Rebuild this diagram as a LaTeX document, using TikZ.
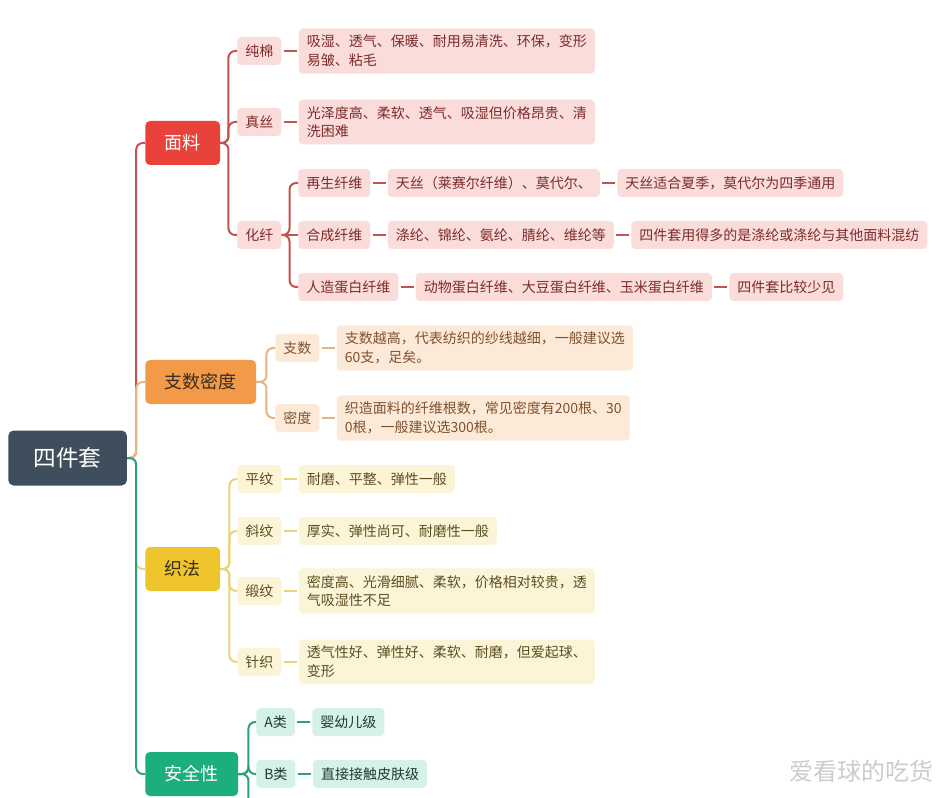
\documentclass[tikz,border=0pt]{standalone}
\usepackage{fontspec}
\usepackage{xcolor}
\usepackage{tikz}
\usetikzlibrary{positioning, calc}
\newfontfamily\cjkfont{Noto Sans CJK SC}
\definecolor{rootslate}{HTML}{3F4E5D}
\definecolor{fabricred}{HTML}{E8423B}
\definecolor{fabricline}{HTML}{C4524E}
\definecolor{fabrictint}{HTML}{FADCDB}
\definecolor{fabricink}{HTML}{7A2C2A}
\definecolor{countorange}{HTML}{F29A47}
\definecolor{countline}{HTML}{E6B384}
\definecolor{counttint}{HTML}{FDE9D8}
\definecolor{countink}{HTML}{7E5230}
\definecolor{weaveyellow}{HTML}{EEC52C}
\definecolor{weaveline}{HTML}{EAD378}
\definecolor{weavetint}{HTML}{FCF4D6}
\definecolor{weaveink}{HTML}{5C4E22}
\definecolor{safegreen}{HTML}{1DAF7B}
\definecolor{safeline}{HTML}{27A47D}
\definecolor{safetint}{HTML}{D5F2E6}
\definecolor{safeink}{HTML}{23382F}
\definecolor{topicink}{HTML}{3B2C1E}
\tikzset{
  rootbox/.style={fill=rootslate, text=white, rounded corners=4pt, anchor=west, font=\cjkfont\fontsize{17}{20}\selectfont, inner xsep=19pt, minimum height=41.25pt},
  topic/.style={rounded corners=3.5pt, anchor=west, font=\cjkfont\fontsize{13.5}{16}\selectfont, inner xsep=14.6pt, minimum height=33pt},
  fabrictopic/.style={topic, fill=fabricred, text=white},
  counttopic/.style={topic, fill=countorange, text=topicink},
  weavetopic/.style={topic, fill=weaveyellow, text=topicink},
  safetopic/.style={topic, fill=safegreen, text=white},
  sub/.style={rounded corners=3pt, anchor=west, font=\cjkfont\fontsize{10.5}{14}\selectfont, inner xsep=6pt, inner ysep=5pt, minimum height=21pt, align=left},
  fabricsub/.style={sub, fill=fabrictint, text=fabricink},
  countsub/.style={sub, fill=counttint, text=countink},
  weavesub/.style={sub, fill=weavetint, text=weaveink},
  safesub/.style={sub, fill=safetint, text=safeink},
  branch/.style={line width=1.5pt, rounded corners=5pt},
  fabricbranch/.style={branch, draw=fabricline},
  countbranch/.style={branch, draw=countline},
  weavebranch/.style={branch, draw=weaveline},
  safebranch/.style={branch, draw=safeline},
  link/.style={line width=1.5pt, shorten <=1.5pt, shorten >=1.5pt},
  watermark/.style={font=\cjkfont\fontsize{18}{20}\selectfont, text=gray!40, anchor=west},
}
\begin{document}
\begin{tikzpicture}[x=0.75pt, y=-0.75pt, node distance=12.75pt]
  % mind map: root on the left, four coloured branches to the right
  \path[use as bounding box, fill=white] (0,0) rectangle (942,798);

  \node[rootbox] (root) at (8,458) {四件套};

  \node[fabrictopic] (fabric) at (145,143) {面料};
  \node[counttopic] (count) at (145,382) {支数密度};
  \node[weavetopic] (weave) at (145,569) {织法};
  \node[safetopic] (safety) at (145,774) {安全性};

  % fabric
  \node[fabricsub] (cotton) at (237,51) {纯棉};
  \node[fabricsub] (silk) at (237,122) {真丝};
  \node[fabricsub] (chem) at (237,235) {化纤};
  \node[fabricsub] (cottond) [right=of cotton] {吸湿、透气、保暖、耐用易清洗、环保，变形\\易皱、粘毛};
  \node[fabricsub] (silkd) [right=of silk] {光泽度高、柔软、透气、吸湿但价格昂贵、清\\洗困难};
  \node[fabricsub] (regen) at (298,183) {再生纤维};
  \node[fabricsub] (synth) at (298,235) {合成纤维};
  \node[fabricsub] (protein) at (298,287) {人造蛋白纤维};
  \node[fabricsub] (regena) [right=of regen] {天丝（莱赛尔纤维）、莫代尔、};
  \node[fabricsub] (regenb) [right=of regena] {天丝适合夏季，莫代尔为四季通用};
  \node[fabricsub] (syntha) [right=of synth] {涤纶、锦纶、氨纶、腈纶、维纶等};
  \node[fabricsub] (synthb) [right=of syntha] {四件套用得多的是涤纶或涤纶与其他面料混纺};
  \node[fabricsub] (proteina) [right=of protein] {动物蛋白纤维、大豆蛋白纤维、玉米蛋白纤维};
  \node[fabricsub] (proteinb) [right=of proteina] {四件套比较少见};

  % yarn count and density
  \node[countsub] (yarn) at (275,348) {支数};
  \node[countsub] (dens) at (275,418) {密度};
  \node[countsub] (yarnd) [right=of yarn] {支数越高，代表纺织的纱线越细，一般建议选\\60支，足矣。};
  \node[countsub] (densd) [right=of dens] {织造面料的纤维根数，常见密度有200根、30\\0根，一般建议选300根。};

  % weave
  \node[weavesub] (plain) at (237,479) {平纹};
  \node[weavesub] (twill) at (237,531) {斜纹};
  \node[weavesub] (satin) at (237,591) {缎纹};
  \node[weavesub] (knit) at (237,662) {针织};
  \node[weavesub] (plaind) [right=of plain] {耐磨、平整、弹性一般};
  \node[weavesub] (twilld) [right=of twill] {厚实、弹性尚可、耐磨性一般};
  \node[weavesub] (satind) [right=of satin] {密度高、光滑细腻、柔软，价格相对较贵，透\\气吸湿性不足};
  \node[weavesub] (knitd) [right=of knit] {透气性好、弹性好、柔软、耐磨，但爱起球、\\变形};

  % safety
  \node[safesub] (classa) at (256,722) {A类};
  \node[safesub] (classb) at (256,774) {B类};
  \node[safesub] (classad) [right=of classa] {婴幼儿级};
  \node[safesub] (classbd) [right=of classb] {直接接触皮肤级};
  \coordinate (safetail) at ($(safety.east)+(10,40)$);

  % trunk, drawn so that the later colours lie on top
  \draw[fabricbranch] (root.east) -- ++(9,0) |- (fabric.west);
  \draw[countbranch] (root.east) -- ++(9,0) |- (count.west);
  \draw[weavebranch] (root.east) -- ++(9,0) |- (weave.west);
  \draw[safebranch] (root.east) -- ++(9,0) |- (safety.west);

  \foreach \n in {cotton, silk, chem}
    \draw[fabricbranch] (fabric.east) -- ++(8,0) |- (\n.west);
  \foreach \n in {regen, protein}
    \draw[fabricbranch] (chem.east) -- ++(8,0) |- (\n.west);
  \draw[fabricbranch] (chem.east) -- (synth.west);
  \foreach \n in {yarn, dens}
    \draw[countbranch] (count.east) -- ++(10,0) |- (\n.west);
  \foreach \n in {plain, twill, satin, knit}
    \draw[weavebranch] (weave.east) -- ++(9,0) |- (\n.west);
  \foreach \n in {classa, classb}
    \draw[safebranch] (safety.east) -- ++(10,0) |- (\n.west);
  \draw[safebranch] (safety.east) -- ++(10,0) -- (safetail);

  \foreach \a/\b in {cotton/cottond, silk/silkd, regen/regena, regena/regenb, synth/syntha, syntha/synthb, protein/proteina, proteina/proteinb}
    \draw[link, fabricline] (\a.east) -- (\b.west);
  \foreach \a/\b in {yarn/yarnd, dens/densd}
    \draw[link, countline] (\a.east) -- (\b.west);
  \foreach \a/\b in {plain/plaind, twill/twilld, satin/satind, knit/knitd}
    \draw[link, weaveline] (\a.east) -- (\b.west);
  \foreach \a/\b in {classa/classad, classb/classbd}
    \draw[link, safeline] (\a.east) -- (\b.west);

  \node[watermark] (mark) at (785,771) {爱看球的吃货};
\end{tikzpicture}
\end{document}
